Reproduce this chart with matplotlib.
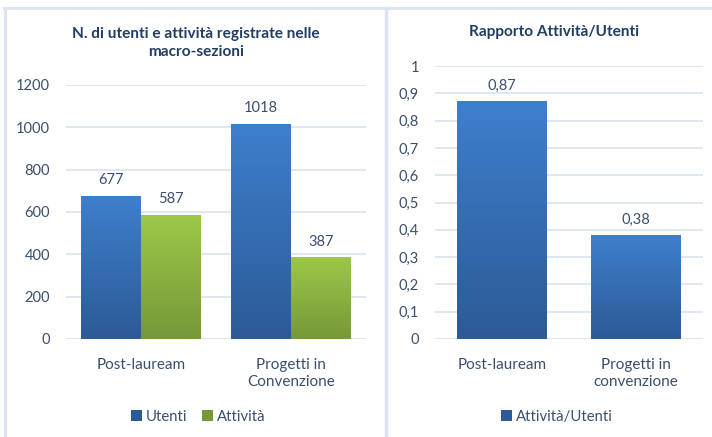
import numpy as np
import matplotlib
matplotlib.use("Agg")
import matplotlib.pyplot as plt
from matplotlib.colors import LinearSegmentedColormap
from matplotlib.patches import Patch
from matplotlib.lines import Line2D

plt.rcParams['font.family'] = ['Lato', 'DejaVu Sans']

# ---- data ----
cat_left = ["Post-lauream", "Progetti in\nConvenzione"]
utenti = [677, 1018]
attivita = [587, 387]
cat_right = ["Post-lauream", "Progetti in\nconvenzione"]
rapporto = [0.87, 0.38]
rapporto_labels = ["0,87", "0,38"]
yticks_left = [0, 200, 400, 600, 800, 1000, 1200]
yticks_right = [0, 0.1, 0.2, 0.3, 0.4, 0.5, 0.6, 0.7, 0.8, 0.9, 1.0]
ytick_labels_right = ["0", "0,1", "0,2", "0,3", "0,4", "0,5", "0,6", "0,7", "0,8", "0,9", "1"]

title_left = "N. di utenti e attività registrate nelle\nmacro-sezioni"
title_right = "Rapporto Attività/Utenti"

# ---- style ----
BLUE_TOP, BLUE_BOT = "#3e7fcd", "#2c5a96"
GREEN_TOP, GREEN_BOT = "#9dc849", "#769838"
TXT = "#3b4f6d"
TITLE = "#223d63"
GRID = "#d9e3f1"
FRAME = "#dae4f3"

W, H = 712, 437
fig = plt.figure(figsize=(W / 100, H / 100), dpi=100)

def fx(px):
    return px / W

def fy(py):
    return 1 - py / H

# panel frames
fig.add_artist(Line2D([fx(4), 1], [fy(8), fy(8)], color=FRAME, lw=2.2))
fig.add_artist(Line2D([fx(5), fx(5)], [fy(8), 0], color=FRAME, lw=2.2))
fig.add_artist(Line2D([fx(386), fx(386)], [fy(8), 0], color=FRAME, lw=2.5))


def gradient_bars(ax, bars, top, bot):
    cmap = LinearSegmentedColormap.from_list("g", [bot, top])
    grad = np.linspace(0, 1, 256).reshape(-1, 1)
    for b in bars:
        x0, y0 = b.get_x(), b.get_y()
        w, h = b.get_width(), b.get_height()
        im = ax.imshow(grad, cmap=cmap, origin="lower", aspect="auto",
                       extent=[x0, x0 + w, y0, y0 + h], zorder=3,
                       interpolation="bilinear")
        im.set_clip_path(b)
        b.set_facecolor("none")
        b.set_edgecolor("none")


def style_axes(ax):
    for s in ax.spines.values():
        s.set_visible(False)
    ax.grid(axis="y", color=GRID, lw=1.2, zorder=0)
    ax.set_axisbelow(True)
    ax.tick_params(axis="both", length=0, colors=TXT)
    ax.tick_params(axis="y", pad=11.5, labelsize=10.5)
    ax.tick_params(axis="x", pad=13.5, labelsize=11)


# ---- left axes ----
axL = fig.add_axes([fx(66), fy(339), fx(366) - fx(66), (339 - 85) / H])
x = np.arange(len(cat_left))
bw = 0.4
b1 = axL.bar(x - bw / 2, utenti, bw, zorder=3)
b2 = axL.bar(x + bw / 2, attivita, bw, zorder=3)
axL.set_xlim(-0.5, 1.5)
axL.set_ylim(0, 1200)
axL.set_yticks(yticks_left)
axL.set_xticks(x)
axL.set_xticklabels(cat_left, linespacing=1.25)
style_axes(axL)
gradient_bars(axL, b1, BLUE_TOP, BLUE_BOT)
gradient_bars(axL, b2, GREEN_TOP, GREEN_BOT)
for bars, vals in ((b1, utenti), (b2, attivita)):
    for b, v in zip(bars, vals):
        axL.annotate(str(v), (b.get_x() + b.get_width() / 2, v),
                     xytext=(0, 6), textcoords="offset points",
                     ha="center", va="bottom", color=TXT, fontsize=10.5,
                     annotation_clip=False)

fig.text(fx(196), fy(43), title_left, ha="center", va="center",
         fontsize=11.1, fontweight="bold", color=TITLE, linespacing=1.4)

handlesL = [Patch(facecolor=BLUE_BOT, label="Utenti"),
            Patch(facecolor=GREEN_BOT, label="Attività")]
fig.legend(handles=handlesL, loc="center", bbox_to_anchor=(fx(198), fy(417)),
           ncol=2, frameon=False, fontsize=10.7, handlelength=0.75,
           handleheight=0.75, handletextpad=0.25, columnspacing=1.0,
           labelcolor=TXT)

# ---- right axes ----
axR = fig.add_axes([fx(435), fy(339), fx(703) - fx(435), (339 - 66) / H])
xr = np.arange(len(cat_right))
b3 = axR.bar(xr, rapporto, 0.67, zorder=3)
axR.set_xlim(-0.5, 1.5)
axR.set_ylim(0, 1)
axR.set_yticks(yticks_right)
axR.set_yticklabels(ytick_labels_right)
axR.set_xticks(xr)
axR.set_xticklabels(cat_right, linespacing=1.25)
style_axes(axR)
gradient_bars(axR, b3, BLUE_TOP, BLUE_BOT)
for b, v, lab in zip(b3, rapporto, rapporto_labels):
    axR.annotate(lab, (b.get_x() + b.get_width() / 2, v),
                 xytext=(0, 6), textcoords="offset points",
                 ha="center", va="bottom", color=TXT, fontsize=10.5,
                 annotation_clip=False)

fig.text(fx(554), fy(32), title_right, ha="center", va="center",
         fontsize=11.1, fontweight="bold", color=TITLE)

handlesR = [Patch(facecolor=BLUE_BOT, label="Attività/Utenti")]
fig.legend(handles=handlesR, loc="center", bbox_to_anchor=(fx(557), fy(417)),
           ncol=1, frameon=False, fontsize=10.7, handlelength=0.75,
           handleheight=0.75, handletextpad=0.25, labelcolor=TXT)

fig.savefig("out.png", dpi=100)
